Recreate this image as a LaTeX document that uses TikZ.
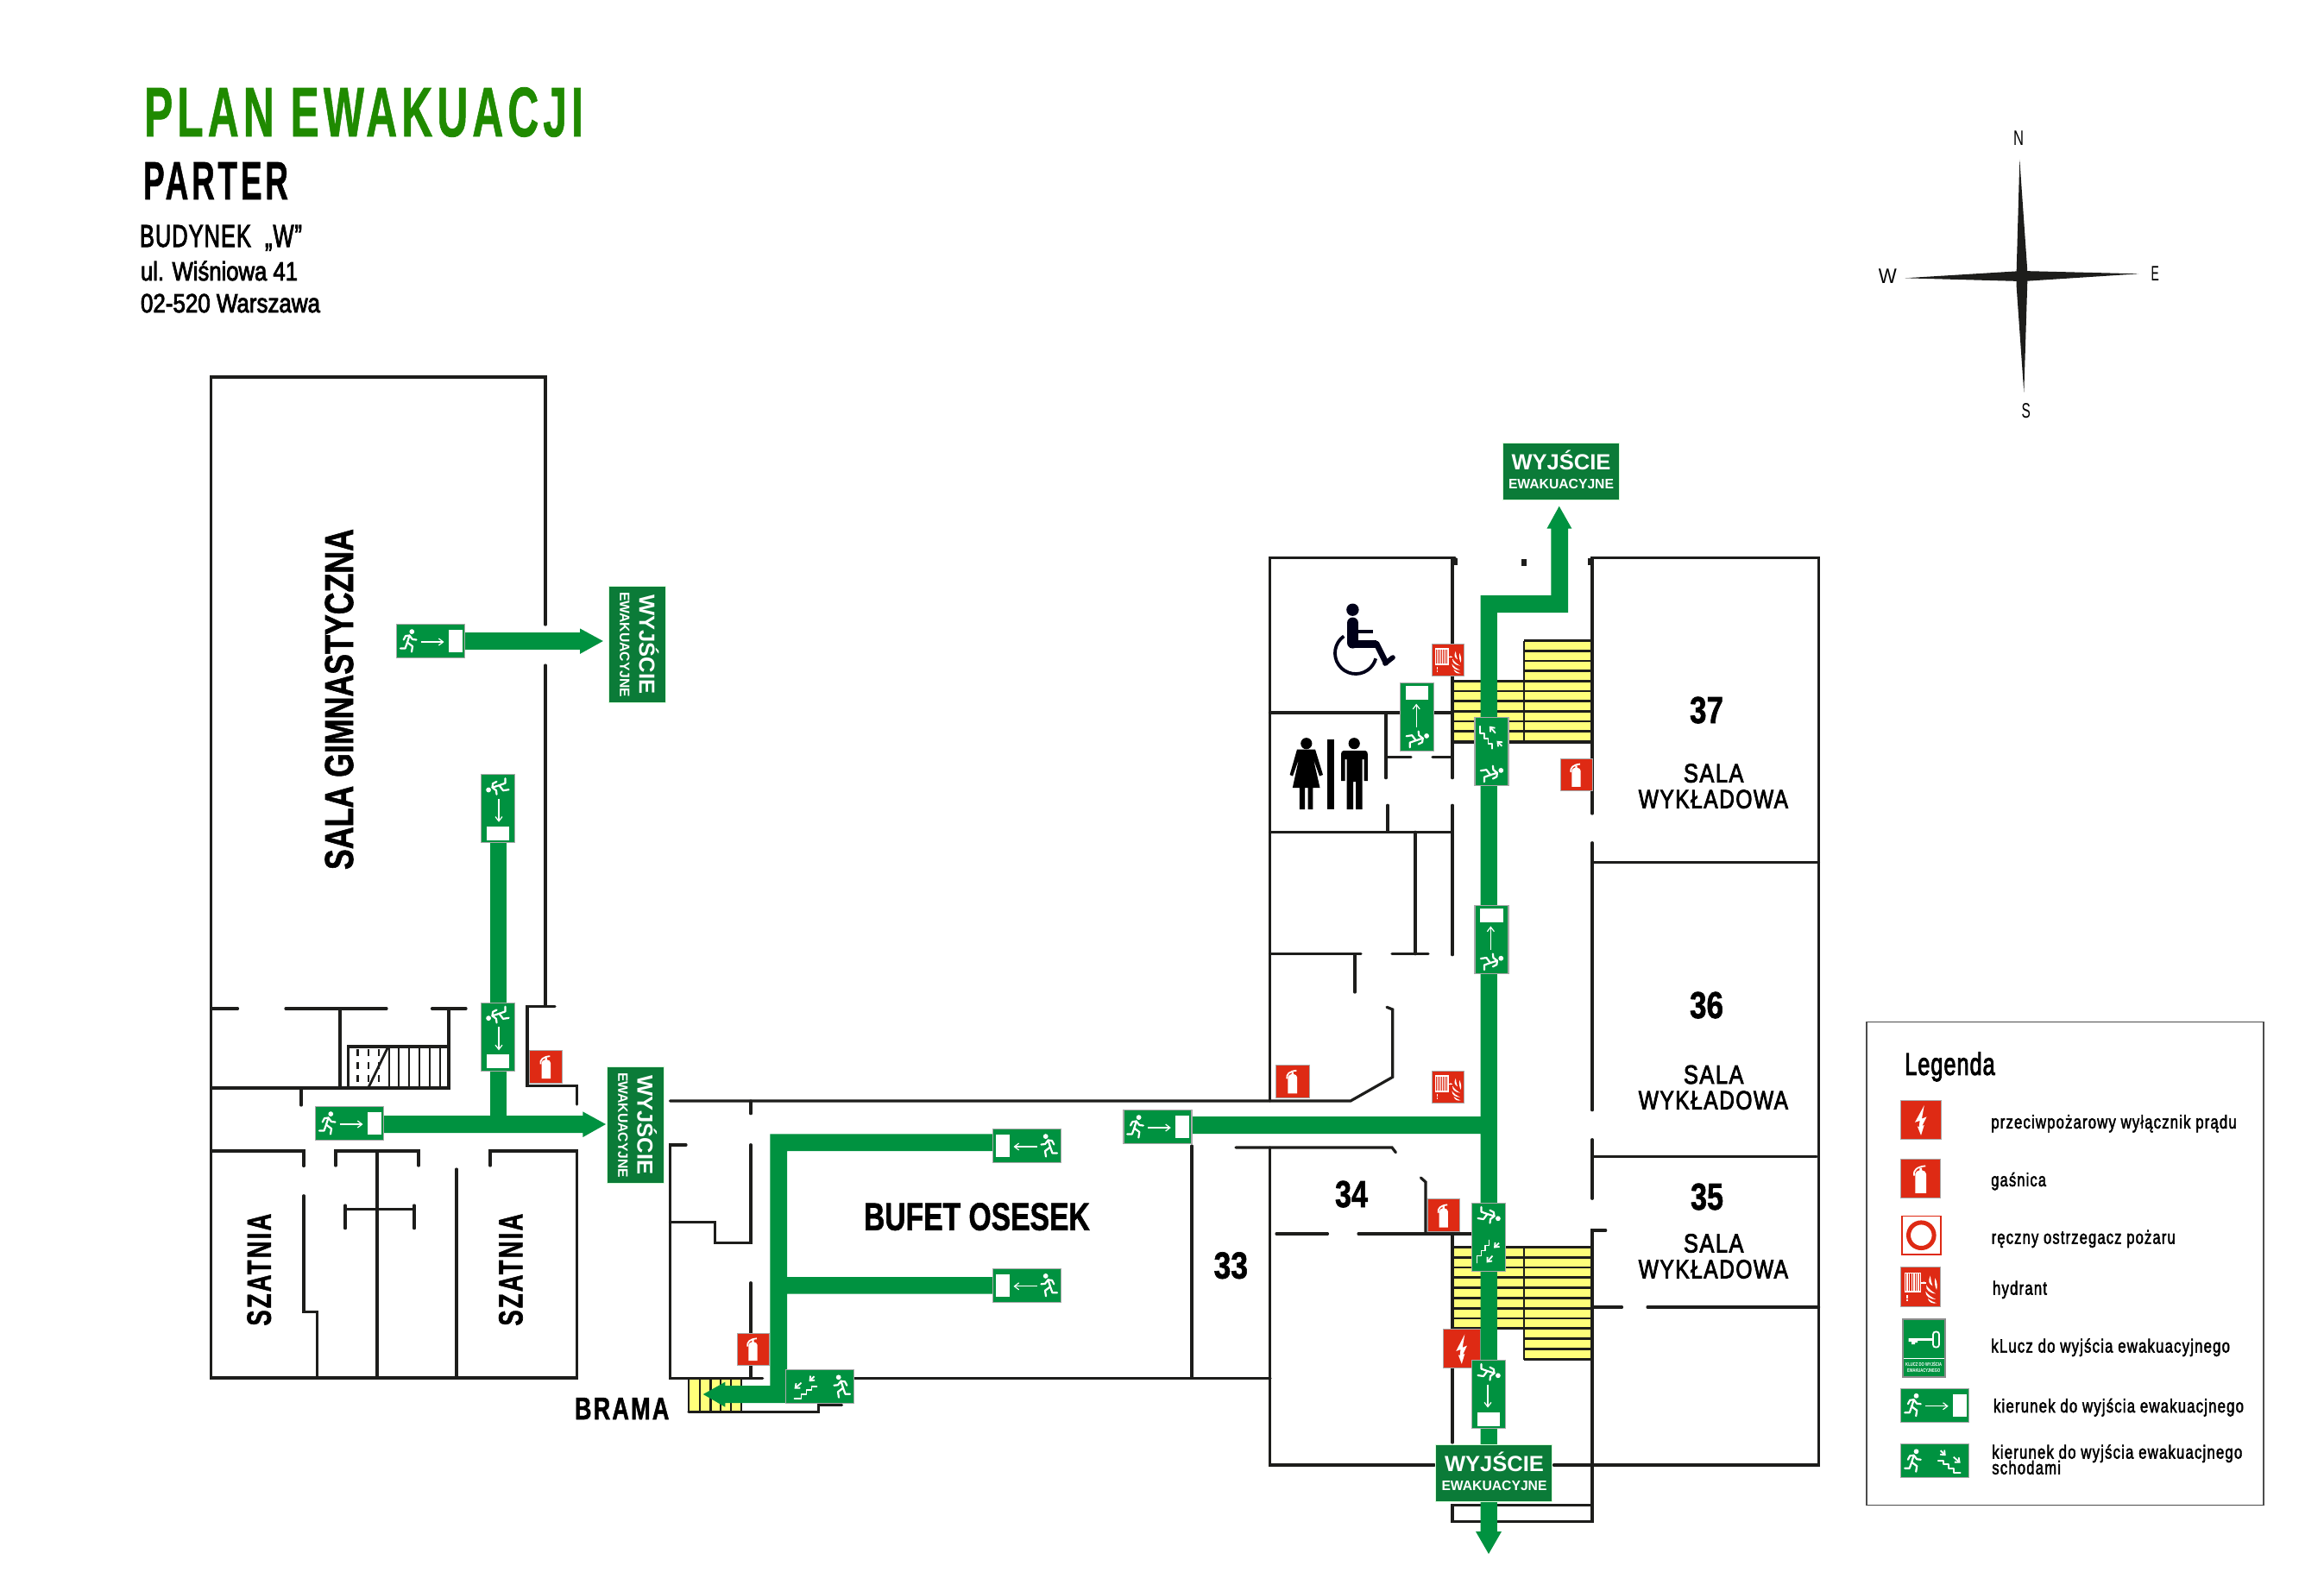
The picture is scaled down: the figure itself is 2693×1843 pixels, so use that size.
\documentclass[tikz,border=0pt]{standalone}
\usepackage{fontspec}
\usetikzlibrary{arrows.meta}
\setmainfont{Liberation Sans}
\newfontfamily\medf[FakeBold=3]{Liberation Sans}
\newfontfamily\medsp[LetterSpace=4,FakeBold=3]{Liberation Sans}
\newfontfamily\spacedf[LetterSpace=6,FakeBold=3]{Liberation Sans}
\newfontfamily\legf[LetterSpace=7,FakeBold=2.5]{Liberation Sans}
\newfontfamily\boldf{Liberation Sans Bold}
\newfontfamily\boldh[FakeBold=1.5]{Liberation Sans Bold}
\newfontfamily\boldt[LetterSpace=10,FakeBold=1]{Liberation Sans Bold}
\newfontfamily\boldw[LetterSpace=8,FakeBold=1.5]{Liberation Sans Bold}
\definecolor{wallc}{HTML}{1D1D1B}
\definecolor{routeg}{HTML}{009240}
\definecolor{signg}{HTML}{009240}
\definecolor{darkg}{HTML}{0B7B38}
\definecolor{titleg}{HTML}{1F8A00}
\definecolor{redc}{HTML}{DE2A14}
\definecolor{yell}{HTML}{FFFF7A}
\definecolor{edgec}{HTML}{A9A9A9}
\newsavebox\fitbox
\newlength\fitlen
\newcommand\fit[3]{\sbox\fitbox{\fontsize{10}{12}\selectfont #3}\setlength\fitlen{\wd\fitbox}\pgfmathsetmacro\fitx{#1*0.5/\fitlen}\pgfmathsetmacro\fity{#2*0.5/6.88}\scalebox{\fitx}[\fity]{\usebox\fitbox}}
\tikzset{
 x=0.5pt,y=-0.5pt,
 wall/.style={draw=wallc,line width=1.6pt,line cap=round,line join=miter},
 stairline/.style={draw=wallc,line width=1.4pt},
 route/.style={fill=routeg,draw=none},
 txt/.style={inner sep=0pt,outer sep=0pt,anchor=base},
 ltxt/.style={inner sep=0pt,outer sep=0pt,anchor=base west},
 wsym/.style={draw=white,line width=1.1pt,line cap=round,line join=round},
 warrow/.style={draw=white,line width=0.6pt,-{Straight Barb[length=2.6pt,width=4pt]}},
 wdiag/.style={draw=white,line width=0.9pt,-{Straight Barb[length=2.2pt,width=3.6pt]}},
}
% ---- green signs: local frame 79 x 39, origin at the centre
\newcommand\signbase{\filldraw[draw=edgec,fill=signg,line width=0.7pt] (-39.5,-19.5) rectangle (39.5,19.5);}
\newcommand\runnerfig{%
  \fill[white] (17.8,8.6) circle[radius=1.45pt];
  \draw[wsym] (15,13) -- (12.5,21);
  \draw[wsym] (15,13) -- (10.5,13.6) -- (8.2,18);
  \draw[wsym] (15,13) -- (18.5,17.5) -- (23,18);
  \draw[wsym] (12.5,21) -- (18.5,25.5) -- (17.5,32);
  \draw[wsym] (12.5,21) -- (10,28) -- (4.5,28);
}
\newcommand\runsign[3]{\begin{scope}[shift={(#1,#2)},cm={#3,(0,0)}]\signbase
 \begin{scope}[shift={(-39.5,-19.5)}]\runnerfig
  \draw[warrow] (28,20.5) -- (55,20.5);
  \fill[white] (60,6.4) rectangle (76,32.7);
 \end{scope}\end{scope}}
\newcommand\stairsign[3]{\begin{scope}[shift={(#1,#2)},cm={#3,(0,0)}]\signbase
 \begin{scope}[shift={(-39.5,-19.5)}]\runnerfig
  \draw[wsym,line width=0.9pt] (43,19) -- (49,19) -- (49,23.5) -- (55,23.5) -- (55,28) -- (61,28) -- (61,33) -- (69,33);
  \draw[wdiag] (46,7.5) -- (52,13.5);
  \draw[wdiag] (61,15) -- (69,22);
 \end{scope}\end{scope}}
% ---- red signs: local frame -50..50
\newcommand\redsign[5]{\begin{scope}[shift={(#1,#2)},xscale=#3/100,yscale=#4/100]
 \filldraw[draw=edgec,fill=redc,line width=0.5pt] (-50,-50) rectangle (50,50);#5\end{scope}}
\newcommand\iconext{%
 \fill[white] (-14,37) -- (-14,-12) .. controls (-14,-18) and (-8,-21) .. (-3,-22) -- (-3,-28) -- (3,-28) -- (3,-22) .. controls (8,-21) and (14,-18) .. (14,-12) -- (14,37) -- cycle;
 \draw[white,line width=0.9pt] (-17,-8) .. controls (-19,-22) and (-10,-31) .. (12,-33);
}
\newcommand\iconbolt{%
 \fill[white] (8,-37) -- (-15,6) -- (-3,2) -- (-5,18) -- (-9,16) -- (0,39) -- (8,13) -- (3,15) -- (14,-8) -- (2,-3) -- cycle;
}
\newcommand\iconhyd{%
 \foreach \i in {0,...,7}{\fill[white] ({-41+\i*5.6},-37) rectangle ({-37.8+\i*5.6},15);}
 \fill[white] (-41,-37) rectangle (0,-33);
 \fill[white] (-41,11) rectangle (0,15);
 \fill[white] (0,-12) rectangle (14,-8);
 \fill[white] (8,-10) circle[radius=1.6pt];
 \fill[white] (-36,22) rectangle (-32,31);
 \fill[white] (-36,33) rectangle (-32,37);
 \fill[white] (24,-28) .. controls (18,-14) and (20,-8) .. (30,-2) .. controls (26,-10) and (26,-18) .. (24,-28) -- cycle;
 \fill[white] (36,-22) .. controls (34,-10) and (36,0) .. (40,8) .. controls (42,0) and (42,-12) .. (36,-22) -- cycle;
 \fill[white] (14,-4) .. controls (12,8) and (22,16) .. (38,18) .. controls (28,12) and (20,6) .. (14,-4) -- cycle;
 \fill[white] (12,12) .. controls (12,24) and (22,32) .. (38,32) .. controls (28,28) and (20,22) .. (12,12) -- cycle;
 \fill[white] (18,30) .. controls (20,40) and (30,44) .. (40,42) .. controls (32,40) and (26,36) .. (18,30) -- cycle;
}
% ---- WYJŚCIE sign, centred at #1,#2, rotated #3
\newcommand\exitsign[4]{\begin{scope}[shift={(#1,#2)},rotate=#3,transform shape]
 \filldraw[draw=white!85!green,fill=darkg,line width=0.4pt] (-67.5,-33) rectangle (67.5,33);
 \node[txt,text=white] (#4a) at (0.5,-2.2) {\fit{115}{17.5}{\boldf WYJŚCIE}};
 \node[txt,text=white] (#4b) at (0.5,20.2) {\fit{122}{11}{\boldf EWAKUACYJNE}};
\end{scope}}
\begin{document}
\begin{tikzpicture}
\useasboundingbox (0,0) rectangle (2693,1843);
\fill[white] (0,0) rectangle (2693,1843);
% ---------- stairs
\fill[yell] (1766,742.7) rectangle (1845,860);
\fill[yell] (1684,789.3) rectangle (1766,860);
\foreach \y in {742.7,754.4,766,777.7,789.4,801,812.7,824.4,836,847.7,859.4}{\draw[stairline] (1766,\y) -- (1845,\y);}
\foreach \y in {789.4,801,812.7,824.4,836,847.7,859.4}{\draw[stairline] (1683,\y) -- (1766,\y);}
\draw[stairline] (1766,742.7) -- (1766,860);
\fill[yell] (1766,1445.4) rectangle (1845,1575.5);
\fill[yell] (1684,1445.4) rectangle (1766,1540);
\foreach \y in {1445.4,1457.2,1469,1480.8,1492.6,1504.4,1516.2,1528,1539.8,1551.6,1563.4,1575.2}{\draw[stairline] (1766,\y) -- (1845,\y);}
\foreach \y in {1445.4,1457.2,1469,1480.8,1492.6,1504.4,1516.2,1528,1539.8}{\draw[stairline] (1683,\y) -- (1766,\y);}
\draw[stairline] (1766,1445.4) -- (1766,1575.5);
\fill[yell] (798,1597) rectangle (859,1636.7);
\foreach \x in {798,811,823.5,835,847,859}{\draw[stairline] (\x,1597) -- (\x,1636.7);}
% ---------- walls: gym wing
\draw[wall] (632,724) -- (632,437) -- (244.5,437) -- (244.5,1597) -- (668.5,1597) -- (668.5,1334) -- (568,1334) -- (568,1351);
\draw[wall] (632,771) -- (632,1166.5);
\draw[wall] (643,1166.5) -- (611,1166.5) -- (611,1258.4) -- (668.5,1258.4) -- (668.5,1280);
\draw[wall] (245,1169) -- (275.5,1169);
\draw[wall] (331,1169) -- (448,1169);
\draw[wall] (500.5,1169) -- (540,1169);
\draw[wall] (394,1169) -- (394,1261);
\draw[wall] (520,1169) -- (520,1261) -- (245,1261);
\draw[wall] (349,1261) -- (349,1281);
\draw[wall] (403.7,1261) -- (403.7,1213) -- (520,1213);
\foreach \x in {450.8,462,473.7,486,498,509.7}{\draw[wall,line width=1.2pt] (\x,1213) -- (\x,1261);}
\draw[wall,line width=1.4pt] (426.7,1261) -- (449.6,1213.6);
\foreach \x in {414.4,426.7,439}{\draw[wall,line width=1.2pt,dash pattern=on 4pt off 3.5pt,line cap=butt] (\x,1216) -- (\x,1261);}
\draw[wall] (245,1334) -- (352,1334) -- (352,1351.4);
\draw[wall] (352,1385.8) -- (352,1520.8) -- (367.3,1520.8) -- (367.3,1597);
\draw[wall] (389,1351) -- (389,1334) -- (485,1334) -- (485,1351);
\draw[wall] (437,1334) -- (437,1597);
\draw[wall] (400,1423.7) -- (400,1397);
\draw[wall] (480,1423.7) -- (480,1397);
\draw[wall] (400,1401.7) -- (480,1401.7);
\draw[wall] (529,1355) -- (529,1597);
% ---------- walls: bufet
\draw[wall] (776.5,1276) -- (1565,1276) -- (1613.8,1248.3) -- (1613.8,1170) -- (1607,1167.3);
\draw[wall] (870,1276) -- (870,1290.7);
\draw[wall] (795,1327) -- (776.5,1327) -- (776.5,1597.3) -- (883.7,1597.3);
\draw[wall] (870,1326.7) -- (870,1440.7) -- (828.6,1440.7) -- (828.6,1416.7) -- (776.5,1416.7);
\draw[wall] (870,1486.7) -- (870,1597.3);
\draw[wall] (989,1597.3) -- (1472,1597.3);
\draw[wall] (1381,1328) -- (1381,1597);
\draw[wall] (798,1636.7) -- (948.5,1636.7) -- (948.5,1628.3) -- (975.5,1628.3);
% ---------- walls: east wing
\draw[wall] (1471.4,1276) -- (1471.4,646.7) -- (1686,646.7);
\draw[wall] (1683,646.7) -- (1683,901.7);
\draw[wall] (1683,933.3) -- (1683,1106.7);
\draw[wall] (1471.4,826) -- (1683,826);
\draw[wall] (1606,826) -- (1606,901.7);
\draw[wall] (1606,877.7) -- (1635,877.7);
\draw[wall] (1660,877.7) -- (1683,877.7);
\draw[wall] (1608,933.3) -- (1608,964.3);
\draw[wall] (1471.4,964.3) -- (1683,964.3);
\draw[wall] (1640,964.3) -- (1640,1105.7);
\draw[wall] (1471.4,1105.7) -- (1577,1105.7);
\draw[wall] (1613,1105.7) -- (1655,1105.7);
\draw[wall] (1570,1105.7) -- (1570,1150);
\draw[wall] (1432,1330) -- (1613,1330) -- (1617.4,1335.7);
\draw[wall] (1471.4,1330) -- (1471.4,1698) -- (1662,1698);
\draw[wall] (1800.4,1698) -- (2107.6,1698) -- (2107.6,646.7) -- (1845,646.7) -- (1845,943);
\draw[wall] (1845,976.7) -- (1845,1286.7);
\draw[wall] (1845,999.3) -- (2107.6,999.3);
\draw[wall] (1845,1320.7) -- (1845,1389.3);
\draw[wall] (1845,1340.7) -- (2105,1340.7);
\draw[wall] (1860.7,1426) -- (1845,1426) -- (1845,1763.8) -- (1683,1763.8) -- (1683,1744.6) -- (1845,1744.6);
\draw[wall] (1845,1515) -- (1879.5,1515);
\draw[wall] (1909,1515) -- (2107.6,1515);
\draw[wall] (1646.4,1365) -- (1652,1370) -- (1652,1430);
\draw[wall] (1479,1430) -- (1538.4,1430);
\draw[wall] (1574,1430) -- (1705.4,1430);
\draw[wall] (1683,1430) -- (1683,1672);
\draw[wall] (1683,860) -- (1845,860);
\draw[wall] (1683,1445.4) -- (1845,1445.4);
\draw[wall] (1430,1597.5) -- (1471.4,1597.5);
\draw[wall,line width=2.6pt,line cap=butt] (1686.6,647) -- (1686.6,655);
\draw[wall,line width=2.6pt,line cap=butt] (1766,648) -- (1766,656);
\draw[wall,line width=2.6pt,line cap=butt] (1843,647) -- (1843,655);
% ---------- green routes
\fill[route] (538,733) -- (672,733) -- (672,728.4) -- (698.8,743) -- (672,757.9) -- (672,752.9) -- (538,752.9) -- cycle;
\fill[route] (567.5,976) rectangle (587,1295);
\fill[route] (444,1293) -- (675.4,1293) -- (675.4,1288.4) -- (702,1303) -- (675.4,1318) -- (675.4,1313) -- (444,1313) -- cycle;
\fill[route] (1150.5,1314.3) -- (892.3,1314.3) -- (892.3,1606) -- (840.3,1606) -- (840.3,1601.7) -- (814.8,1616) -- (840.3,1630.7) -- (840.3,1626) -- (912.2,1626) -- (912.2,1499.7) -- (1150.5,1499.7) -- (1150.5,1480) -- (912.2,1480) -- (912.2,1334) -- (1150.5,1334) -- cycle;
\redsign{1693.8}{1563.2}{43.6}{45}{\iconbolt}
\fill[route] (1380,1294) -- (1715.6,1294) -- (1715.6,690) -- (1797.3,690) -- (1797.3,612.7) -- (1792.4,612.7) -- (1806.7,586.7) -- (1821.4,612.7) -- (1817,612.7) -- (1817,710) -- (1734.8,710) -- (1734.8,1775) -- (1740,1775) -- (1725,1801) -- (1710,1775) -- (1715.6,1775) -- (1715.6,1314) -- (1380,1314) -- cycle;
% ---------- exit signs on routes
\runsign{499}{743}{1,0,0,1}
\runsign{405}{1302}{1,0,0,1}
\runsign{1341.3}{1306}{1,0,0,1}
\runsign{1190}{1328}{-1,0,0,1}
\runsign{1190}{1489.8}{-1,0,0,1}
\runsign{577}{937.2}{0,-1,-1,0}
\runsign{577}{1201.8}{0,-1,-1,0}
\runsign{1725}{1616}{0,-1,1,0}
\runsign{1642.2}{831.2}{0,1,1,0}
\runsign{1728.4}{1089}{0,1,1,0}
\stairsign{950}{1607.2}{-1,0,0,1}
\stairsign{1728.4}{871.2}{0,1,1,0}
\stairsign{1725}{1434}{0,-1,1,0}
% ---------- red signs on plan
\redsign{632.8}{1236.4}{37.7}{37.2}{\iconext}
\redsign{872.5}{1563.5}{37}{37}{\iconext}
\redsign{1826.5}{898}{37}{37.7}{\iconext}
\redsign{1497.8}{1253.3}{38.4}{38}{\iconext}
\redsign{1672.8}{1408.7}{36.5}{37.5}{\iconext}
\redsign{1678}{765}{36.6}{36.6}{\iconhyd}
\redsign{1678}{1260}{36.6}{36.6}{\iconhyd}
% ---------- WYJŚCIE signs
\exitsign{1808.5}{546.5}{0}{ex1}
\exitsign{1731}{1707.5}{0}{ex2}
\exitsign{738.6}{746.5}{-90}{ex3}
\exitsign{736.5}{1303.5}{-90}{ex4}
% ---------- pictograms: wheelchair
\fill[black!90!blue] (1567.4,706.7) circle[radius=3.6pt];
\draw[black!90!blue,line width=6.5pt,line cap=round,line join=round] (1567.5,722) -- (1567.5,745);
\draw[black!90!blue,line width=4.5pt,line join=round] (1564,746) -- (1595,746);
\draw[black!90!blue,line width=3.4pt,line cap=round] (1595,746) -- (1606,768);
\draw[black!90!blue,line width=2.8pt,line cap=round] (1605,769) -- (1614,762);
\draw[black!90!blue,line width=2.4pt] (1568,732) -- (1591,732);
\draw[black!90!blue,line width=1.9pt] (1571,757) ++(125:12pt) arc[start angle=125,end angle=345,radius=12pt];
% ---------- pictograms: toilets
\fill[black] (1513.8,861.7) circle[radius=3.3pt];
\fill[black] (1569.2,861.7) circle[radius=3.3pt];
\fill[black] (1538,857) rectangle (1546,938);
\fill[black] (1503,868.5) -- (1524,868.5) -- (1533,898) -- (1529,899.5) -- (1522,880) -- (1529.5,913) -- (1521.4,913) -- (1521.4,938) -- (1515.5,938) -- (1515.5,913) -- (1512,913) -- (1512,938) -- (1505.8,938) -- (1505.8,913) -- (1497.8,913) -- (1505,880) -- (1498,899.5) -- (1494.6,898) -- cycle;
\fill[black] (1557,870) -- (1582,870) .. controls (1584,870) and (1584.8,872) .. (1584.8,874) -- (1584.8,905) -- (1580.5,905) -- (1580.5,880) -- (1578.6,880) -- (1578.6,938) -- (1571,938) -- (1571,906) -- (1568,906) -- (1568,938) -- (1560.7,938) -- (1560.7,880) -- (1558.5,880) -- (1558.5,905) -- (1554,905) -- (1554,874) .. controls (1554,872) and (1555,870) .. (1557,870) -- cycle;
% ---------- headings
\node[ltxt,text=titleg] (title) at (167,158) {\fit{509}{56}{\boldt PLAN EWAKUACJI}};
\node[ltxt] (parter) at (166,231) {\fit{168}{43}{\boldt PARTER}};
\node[ltxt] (budynek) at (162,286) {\fit{188}{25}{\medsp BUDYNEK\ \ „W”}};
\node[ltxt] (ulica) at (163,325) {\fit{182}{21}{\medf ul. Wiśniowa 41}};
\node[ltxt] (miasto) at (163,362) {\fit{208}{21}{\medf 02-520 Warszawa}};
% ---------- room labels
\node[txt,rotate=90] (gym) at (409,810.5) {\fit{395}{32}{\boldh SALA GIMNASTYCZNA}};
\node[txt,rotate=90] (szat1) at (313.8,1471.6) {\fit{130}{27}{\boldw SZATNIA}};
\node[txt,rotate=90] (szat2) at (605.4,1471.6) {\fit{130}{27}{\boldw SZATNIA}};
\node[txt] (brama) at (720.7,1645) {\fit{109.5}{25}{\boldw BRAMA}};
\node[txt] (bufet) at (1131.9,1425.7) {\fit{261.8}{31}{\boldh BUFET OSESEK}};
\node[txt] (r33) at (1426.3,1481.7) {\fit{39.4}{30}{\boldh 33}};
\node[txt] (r34) at (1566,1399) {\fit{38}{30}{\boldh 34}};
\node[txt] (r35) at (1978,1402) {\fit{38}{30}{\boldh 35}};
\node[txt] (r36) at (1977.5,1180) {\fit{39}{30}{\boldh 36}};
\node[txt] (r37) at (1977.5,838) {\fit{39}{30}{\boldh 37}};
\foreach \a/\b/\n in {906.7/936.7/a,1256/1285.7/b,1451.5/1481.5/c}{
 \node[txt] (sala\n) at (1985.7,\a) {\fit{69.5}{21}{\spacedf SALA}};
 \node[txt] (wyk\n) at (1985.4,\b) {\fit{173.3}{21}{\spacedf WYKŁADOWA}};
}
% ---------- compass
\fill[wallc] (2340.3,185) -- (2349,310) -- (2349.5,320) -- (2345.3,455) -- (2336.5,330) -- (2336.5,320) -- cycle;
\fill[wallc] (2207.3,322.3) -- (2335,314.5) -- (2342.7,314) -- (2478.3,317.3) -- (2352,325.5) -- (2342.7,326) -- cycle;
\node[txt] (north) at (2339,168.3) {\fit{12}{16.7}{N}};
\node[txt] (south) at (2347.7,484) {\fit{10.3}{16.7}{S}};
\node[txt] (west) at (2187.3,328) {\fit{21}{16.7}{W}};
\node[txt] (east) at (2497.3,325) {\fit{9.3}{16.7}{E}};
% ---------- legend
\draw[draw=black!70,line width=0.8pt] (2162.7,1184.5) rectangle (2622.7,1744.3);
\node[ltxt] (leg) at (2207.3,1245.8) {\fit{104.4}{25}{\medsp Legenda}};
\redsign{2226}{1298}{46.6}{45.8}{\iconbolt}
\redsign{2225.7}{1366.2}{46}{45}{\iconext}
\filldraw[draw=redc,fill=white,line width=0.9pt] (2204,1409.5) rectangle (2248.7,1453.9);
\draw[redc,line width=2.5pt] (2226.3,1431.7) circle[radius=7.4pt];
\redsign{2225.7}{1491.3}{46}{45.4}{\iconhyd}
\filldraw[draw=black!45,fill=signg,line width=0.8pt] (2204.7,1529) rectangle (2253.7,1595.7);
\draw[white,line width=0.5pt] (2205.5,1574) -- (2253,1574);
\draw[white,line width=1.1pt] (2213,1552.5) -- (2240,1552.5);
\fill[white] (2211.5,1551) -- (2222,1551) -- (2222,1556) -- (2219,1556) -- (2219,1558) -- (2215,1558) -- (2215,1555) -- (2211.5,1555) -- cycle;
\draw[white,line width=0.9pt,rounded corners=1.5pt] (2240,1543.5) rectangle (2247,1561.5);
\node[txt,text=white] (keya) at (2229.2,1583.3) {\fit{42}{4}{\boldf KLUCZ DO WYJŚCIA}};
\node[txt,text=white] (keyb) at (2229.2,1590.8) {\fit{38}{4}{\boldf EWAKUACYJNEGO}};
\runsign{2242.2}{1628.7}{1,0,0,1}
\stairsign{2242.2}{1693.2}{1,0,0,1}
\node[ltxt] (l1) at (2307.3,1307.9) {\fit{284.4}{15}{\legf przeciwpożarowy wyłącznik prądu}};
\node[ltxt] (l2) at (2307.3,1374.9) {\fit{63.7}{15}{\legf gaśnica}};
\node[ltxt] (l3) at (2307.7,1441.5) {\fit{213}{15}{\legf ręczny ostrzegacz pożaru}};
\node[ltxt] (l4) at (2309,1500.5) {\fit{63}{15}{\legf hydrant}};
\node[ltxt] (l5) at (2307.3,1567.5) {\fit{276.7}{15}{\legf kLucz do wyjścia ewakuacyjnego}};
\node[ltxt] (l6) at (2310,1637) {\fit{290}{15}{\legf kierunek do wyjścia ewakuacjnego}};
\node[ltxt] (l7) at (2308.3,1690.5) {\fit{290}{15}{\legf kierunek do wyjścia ewakuacjnego}};
\node[ltxt] (l8) at (2308.3,1708.6) {\fit{79.7}{15}{\legf schodami}};
\end{tikzpicture}
\end{document}
